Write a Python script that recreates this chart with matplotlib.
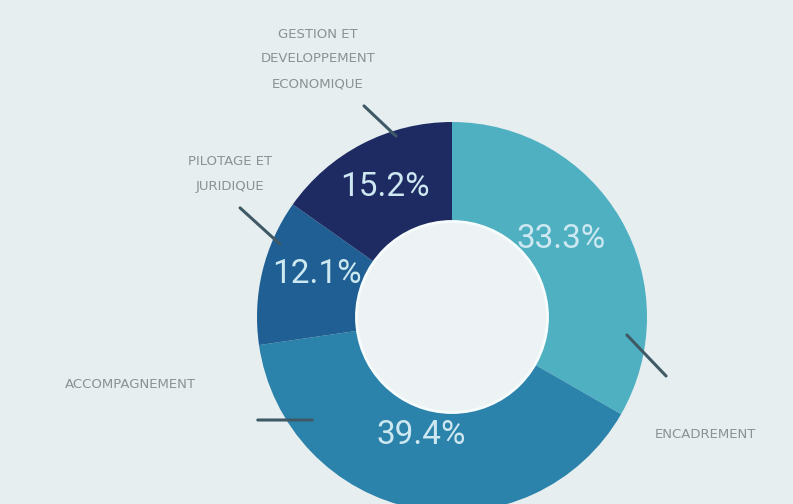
import numpy as np
import matplotlib.pyplot as plt
from matplotlib.patches import Circle

# data
labels = ['ENCADREMENT', 'ACCOMPAGNEMENT', 'PILOTAGE ET\nJURIDIQUE',
          'GESTION ET\nDEVELOPPEMENT\nECONOMIQUE']
shares = [33.3, 39.4, 12.1, 15.2]
colors = ['#4fb0c2', '#2b82aa', '#1f5f93', '#1d2b62']

bg = '#e6eef0'
fig = plt.figure(figsize=(7.93, 5.04), dpi=100, facecolor=bg)
ax = fig.add_axes([0, 0, 1, 1])

cx, cy, R = 452, 187, 195
wedges, texts, pcts = ax.pie(shares, colors=colors, startangle=90, counterclock=False,
                             center=(cx, cy), radius=R, frame=True,
                             autopct='%.1f%%', pctdistance=0.68,
                             wedgeprops=dict(width=R * 0.51, linewidth=0),
                             textprops=dict(color='#cde8f1', fontsize=24,
                                            family=['Roboto', 'DejaVu Sans']))
# nudge the percentages up a little, like the original layout
for t in pcts:
    x, y = t.get_position()
    t.set_position((x - 6, y + 12))

ax.set_xlim(0, 793)
ax.set_ylim(0, 504)
ax.set_aspect('equal')
ax.axis('off')
ax.add_patch(Circle((cx, cy), R * 0.49, facecolor='#edf3f5', edgecolor='#f6fbfc', lw=2))

# outer labels: text position, leader line start and end (pixel space, y from bottom)
label_pos = [(705, 69), (130, 119), (230, 330), (318, 445)]
line_from = [(668, 126), (255, 84), (238, 298), (362, 400)]
line_to = [(625, 171), (315, 84), (282, 258), (398, 366)]

for lab, p, a, b in zip(labels, label_pos, line_from, line_to):
    ax.text(p[0], p[1], lab, ha='center', va='center', fontsize=9.5,
            color='#8c9193', linespacing=2.2)
    ax.annotate('', xy=b, xytext=a,
                arrowprops=dict(arrowstyle='-', color='#3f5a66', lw=2.2))

fig.savefig('out.png', dpi=100, facecolor=bg)
